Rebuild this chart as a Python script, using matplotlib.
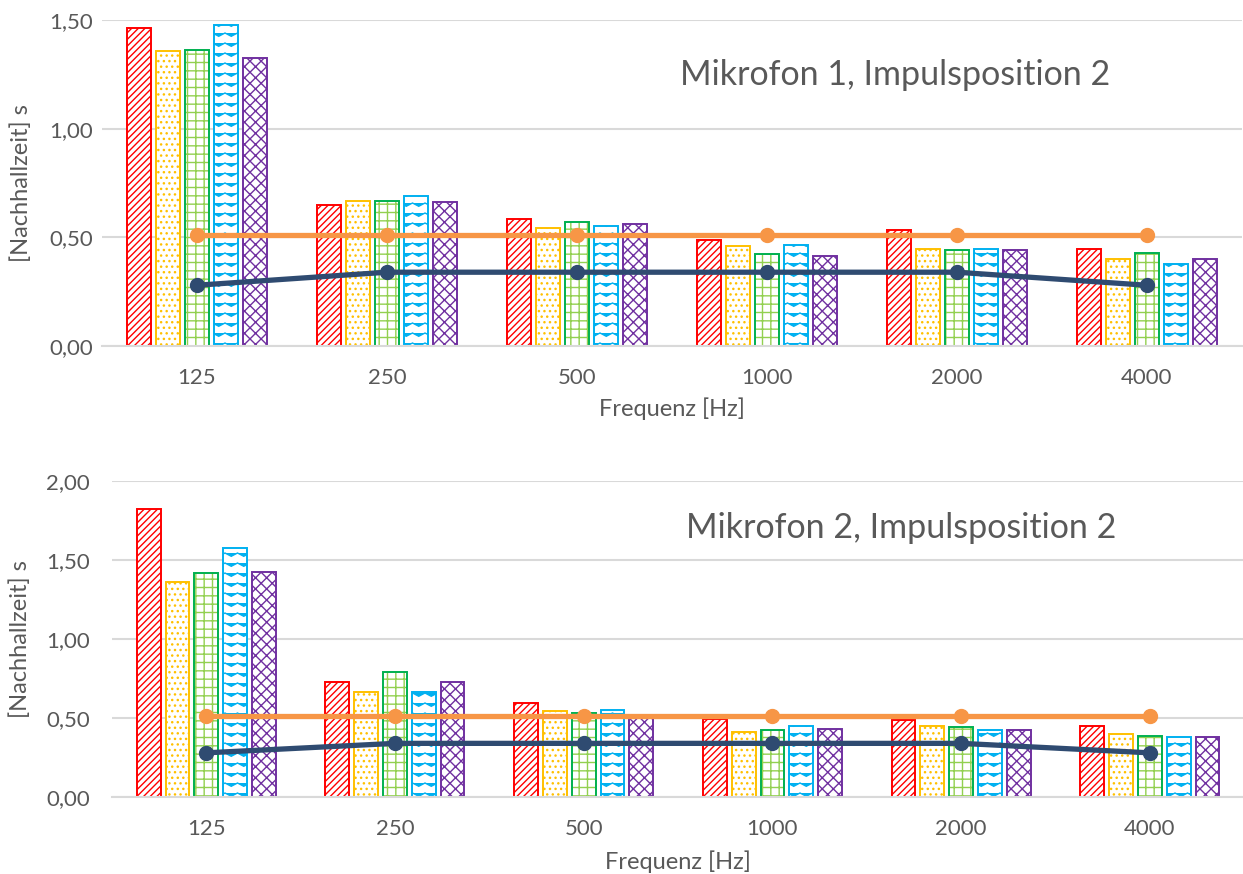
import warnings
import numpy as np
import matplotlib
matplotlib.use('Agg')
import matplotlib.pyplot as plt
import matplotlib.hatch as mhatch
from matplotlib.path import Path

warnings.filterwarnings('ignore')

freqs = ['125', '250', '500', '1000', '2000', '4000']

# Mikrofon 1
m1_a = [1.465, 0.650, 0.586, 0.488, 0.535, 0.445]
m1_b = [1.359, 0.669, 0.544, 0.460, 0.445, 0.402]
m1_c = [1.363, 0.667, 0.569, 0.425, 0.440, 0.429]
m1_d = [1.477, 0.692, 0.551, 0.466, 0.446, 0.377]
m1_e = [1.327, 0.661, 0.563, 0.414, 0.442, 0.399]

# Mikrofon 2
m2_a = [1.826, 0.731, 0.596, 0.495, 0.490, 0.448]
m2_b = [1.358, 0.665, 0.543, 0.411, 0.447, 0.400]
m2_c = [1.419, 0.791, 0.533, 0.426, 0.445, 0.386]
m2_d = [1.579, 0.667, 0.552, 0.447, 0.423, 0.379]
m2_e = [1.423, 0.730, 0.520, 0.434, 0.423, 0.379]

soll_oben = [0.51, 0.51, 0.51, 0.51, 0.51, 0.51]
soll_unten = [0.28, 0.34, 0.34, 0.34, 0.34, 0.28]


# Zickzack-Schraffur (gibt es in matplotlib nicht)
class ZigZagHatch(mhatch.HatchPatternBase):
    def __init__(self, hatch, density):
        n = hatch.count('z')
        self.rows = 10 * n
        self.zigs = 8 * n
        self.num_vertices = self.rows * (2 * self.zigs + 1) if n else 0

    def set_vertices_and_codes(self, vertices, codes):
        k = 2 * self.zigs + 1
        xs = np.linspace(0, 1, k)
        amp = 0.33 / self.rows
        for i in range(self.rows):
            y0 = (i + 0.7) / self.rows
            vertices[i*k:(i+1)*k, 0] = xs
            vertices[i*k:(i+1)*k, 1] = y0 - amp * (np.arange(k) % 2)
            codes[i*k] = Path.MOVETO
            codes[i*k+1:(i+1)*k] = Path.LINETO


mhatch._hatch_types.append(ZigZagHatch)

plt.rcParams['font.family'] = ['Lato', 'DejaVu Sans']
plt.rcParams['hatch.linewidth'] = 1.0

grau = '#595959'
gitter = '#D9D9D9'

fig = plt.figure(figsize=(12.43, 8.74), dpi=100)
ax1 = fig.add_axes([0.082, 0.604, 0.917, 0.373])
ax2 = fig.add_axes([0.090, 0.088, 0.911, 0.3616])


def plot_panel(ax, serien, ymax, titel, ypad, tx, ty, ylx, xly):
    x = np.arange(len(freqs))
    pitch = 29 / 190
    w = 24 / 190
    stile = [('#FF0000', '#FF0000', '/////'),
             ('#FFC000', '#FFC000', '...'),
             ('#92D050', '#00B050', '++'),
             ('#00B0F0', '#00B0F0', 'z'),
             ('#7030A0', '#7030A0', 'xxx')]
    for i, (werte, (hc, ec, h)) in enumerate(zip(serien, stile)):
        pos = x + (i - 2) * pitch
        ax.bar(pos, werte, w, color='white', edgecolor=hc, hatch=h,
               linewidth=0, zorder=2)
        ax.bar(pos, werte, w, fill=False, edgecolor=ec, linewidth=1.4,
               zorder=2)
    ax.plot(x, soll_oben, color='#F79646', lw=3.8, marker='o', ms=10,
            zorder=3)
    ax.plot(x, soll_unten, color='#2F4B71', lw=3.8, marker='o', ms=10,
            zorder=3)

    ax.set_xlim(-0.5, len(freqs) - 0.5)
    ax.set_ylim(0, ymax)
    yt = np.arange(0, ymax + 0.01, 0.5)
    ax.set_yticks(yt)
    ax.set_yticklabels([f'{v:.2f}'.replace('.', ',') for v in yt])
    ax.set_xticks(x)
    ax.set_xticklabels(freqs)
    ax.tick_params(axis='both', length=0, labelsize=16, labelcolor=grau)
    ax.tick_params(axis='x', pad=16)
    ax.tick_params(axis='y', pad=ypad)
    ax.grid(axis='y', color=gitter, lw=1.5)
    ax.set_axisbelow(True)
    for s in ['top', 'right', 'left']:
        ax.spines[s].set_visible(False)
    ax.spines['bottom'].set_color(gitter)
    ax.spines['bottom'].set_linewidth(1.5)
    ax.set_xlabel('Frequenz [Hz]', fontsize=17, color=grau)
    ax.xaxis.set_label_coords(0.5, xly)
    ax.set_ylabel('[Nachhallzeit] s', fontsize=17, color=grau)
    ax.yaxis.set_label_coords(ylx, 0.5)
    ax.text(tx, ty, titel, transform=ax.transAxes, fontsize=24.5, color=grau,
            ha='left', va='center')


plot_panel(ax1, [m1_a, m1_b, m1_c, m1_d, m1_e], 1.5,
           'Mikrofon 1, Impulsposition 2', 6.5, 0.507, 0.832, -0.061, -0.158)
plot_panel(ax2, [m2_a, m2_b, m2_c, m2_d, m2_e], 2.0,
           'Mikrofon 2, Impulsposition 2', 16, 0.507, 0.850, -0.071, -0.170)

fig.savefig('out.png', dpi=100, facecolor='white')
